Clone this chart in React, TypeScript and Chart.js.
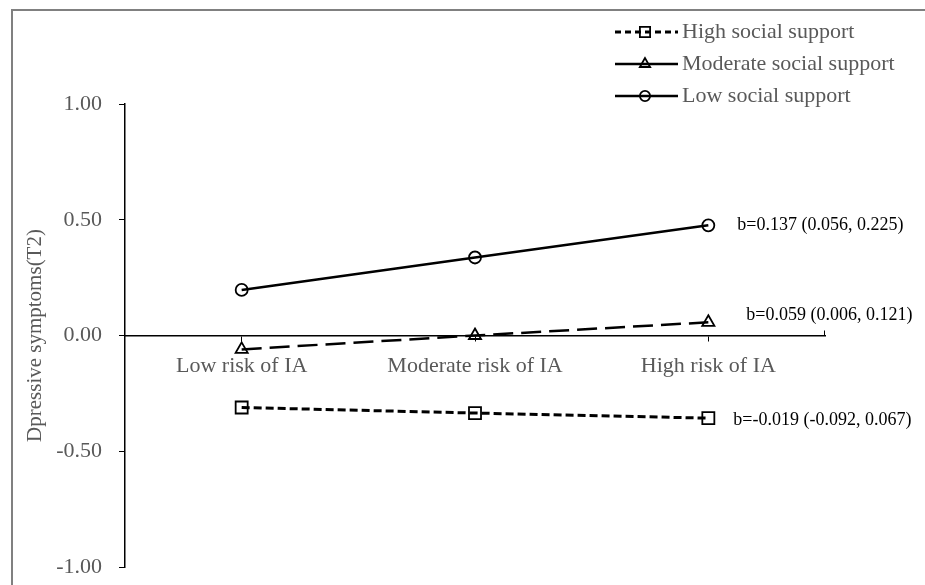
import React, { useEffect, useRef } from 'react';
import { Chart, registerables } from 'chart.js';

Chart.register(...registerables);

const categories = ['Low risk of IA', 'Moderate risk of IA', 'High risk of IA'];
const seriesNames = ['High social support', 'Moderate social support', 'Low social support'];
const highSupport = [-0.311, -0.335, -0.357];
const moderateSupport = [-0.06, 0.0, 0.057];
const lowSupport = [0.197, 0.337, 0.476];
const slopeLabels = ['b=-0.019 (-0.092, 0.067)', 'b=0.059 (0.006, 0.121)', 'b=0.137 (0.056, 0.225)'];
const yTicks = [-1, -0.5, 0, 0.5, 1];
const yTitle = 'Dpressive symptoms(T2)';

const FONT = '"Liberation Serif", "Times New Roman", serif';
const GRAY = '#595959';

function drawMarker(ctx: CanvasRenderingContext2D, style: string, x: number, y: number, r: number) {
  ctx.beginPath();
  if (style === 'rect') {
    const s = Math.SQRT1_2 * r;
    ctx.rect(x - s, y - s, 2 * s, 2 * s);
  } else if (style === 'triangle') {
    ctx.moveTo(x, y - r);
    ctx.lineTo(x - 0.866 * r, y + r / 2);
    ctx.lineTo(x + 0.866 * r, y + r / 2);
    ctx.closePath();
  } else {
    ctx.arc(x, y, r, 0, Math.PI * 2);
  }
  ctx.stroke();
}

const overlayPlugin = {
  id: 'overlay',
  afterDraw(chart: any) {
    const ctx: CanvasRenderingContext2D = chart.ctx;
    ctx.save();
    const offsets = [
      { dx: 25, dy: 2 },
      { dx: 38, dy: -7 },
      { dx: 29, dy: 0 },
    ];
    chart.data.datasets.forEach((ds: any, i: number) => {
      const meta = chart.getDatasetMeta(i);
      const last = meta.data[meta.data.length - 1];
      ctx.fillStyle = '#000';
      ctx.font = `18px ${FONT}`;
      ctx.textAlign = 'left';
      ctx.textBaseline = 'middle';
      ctx.fillText(slopeLabels[i], last.x + offsets[i].dx, last.y + offsets[i].dy);
    });
    // end tick of the category axis
    const xs = chart.scales.x;
    const y0 = chart.scales.y.getPixelForValue(0);
    ctx.strokeStyle = '#000';
    ctx.lineWidth = 1;
    ctx.beginPath();
    ctx.moveTo(xs.right - 0.5, y0);
    ctx.lineTo(xs.right - 0.5, y0 - 5);
    ctx.stroke();
    const lx0 = 615, lx1 = 678, mx = 645, tx = 682;
    const legendDash = [[6, 4], [], []];
    chart.data.datasets.forEach((ds: any, i: number) => {
      const y = 32 + i * 32;
      ctx.strokeStyle = '#000';
      ctx.lineWidth = ds.borderWidth;
      ctx.setLineDash(legendDash[i]);
      ctx.beginPath();
      ctx.moveTo(lx0, y);
      ctx.lineTo(lx1, y);
      ctx.stroke();
      ctx.setLineDash([]);
      ctx.lineWidth = ds.pointBorderWidth;
      drawMarker(ctx, ds.pointStyle, mx, y, ds.pointRadius * 0.85);
      ctx.fillStyle = GRAY;
      ctx.font = `22px ${FONT}`;
      ctx.textAlign = 'left';
      ctx.textBaseline = 'middle';
      ctx.fillText(seriesNames[i], tx, y);
    });
    ctx.restore();
  },
};

export default function App() {
  const ref = useRef<HTMLCanvasElement>(null);
  useEffect(() => {
    const canvas = ref.current!;
    const mk = (label: string, data: number[], dash: number[], width: number, style: string, radius: number) => ({
      label,
      data,
      borderColor: '#000',
      borderWidth: width,
      borderDash: dash,
      pointStyle: style,
      pointRadius: radius,
      pointBorderWidth: 1.8,
      pointBorderColor: '#000',
      pointBackgroundColor: 'rgba(0,0,0,0)',
      fill: false,
      tension: 0,
    });
    const chart = new Chart(canvas, {
      type: 'line',
      data: {
        labels: categories,
        datasets: [
          mk(seriesNames[0], highSupport, [8, 4], 3, 'rect', 8.5),
          mk(seriesNames[1], moderateSupport, [20, 8], 2.5, 'triangle', 7),
          mk(seriesNames[2], lowSupport, [], 2.5, 'circle', 6),
        ],
      },
      options: {
        animation: false,
        responsive: false,
        layout: { padding: { left: 0, top: 104, right: 100, bottom: 18 } },
        plugins: { legend: { display: false }, tooltip: { enabled: false } },
        scales: {
          x: {
            type: 'category',
            position: { y: 0 },
            offset: true,
            grid: { drawOnChartArea: false, drawTicks: true, tickLength: 5, color: '#000', lineWidth: 1 },
            border: { display: true, color: '#000', width: 1.5 },
            ticks: { color: GRAY, font: { family: FONT, size: 22 }, padding: 13, maxRotation: 0, autoSkip: false },
          },
          y: {
            min: -1,
            max: 1,
            afterBuildTicks: (s: any) => {
              s.ticks = yTicks.map((v) => ({ value: v }));
            },
            afterFit: (s: any) => {
              s.width = 125;
              s.paddingTop = 0;
              s.paddingBottom = 0;
            },
            grid: { drawOnChartArea: false, drawTicks: true, tickLength: 6, color: '#000' },
            border: { display: true, color: '#000', width: 1.5 },
            ticks: {
              color: GRAY,
              font: { family: FONT, size: 22 },
              padding: 17,
              callback: (v: any) => Number(v).toFixed(2),
            },
            title: {
              display: true,
              text: yTitle,
              color: GRAY,
              font: { family: FONT, size: 21 },
              padding: { top: 23, bottom: 0 },
            },
          },
        },
      } as any,
      plugins: [overlayPlugin],
    });
    return () => chart.destroy();
  }, []);
  return (
    <div style={{ position: 'fixed', left: 0, top: 0, width: 925, height: 585, background: '#fff' }}>
      <div
        style={{
          position: 'absolute',
          left: 11,
          top: 9,
          right: 0,
          bottom: 0,
          borderLeft: '2px solid #808080',
          borderTop: '2px solid #808080',
        }}
      />
      <canvas ref={ref} width={925} height={585} style={{ position: 'absolute', left: 0, top: 0, width: 925, height: 585 }} />
    </div>
  );
}
